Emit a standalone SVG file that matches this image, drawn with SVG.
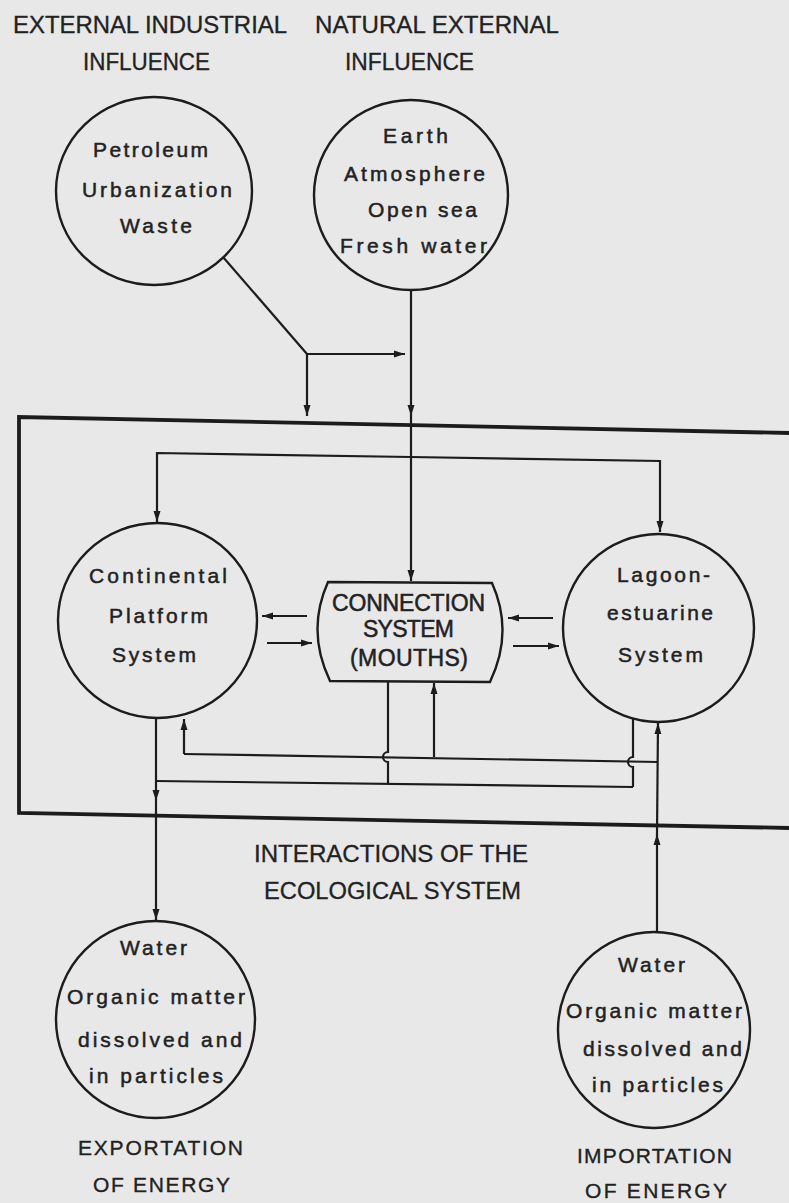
<svg xmlns="http://www.w3.org/2000/svg" width="789" height="1203" viewBox="0 0 789 1203">
<defs>
<style>
.bg{fill:#e8e8e8}
.c{fill:none;stroke:#1c1c1c;stroke-width:2.4}
.ln{fill:none;stroke:#1c1c1c;stroke-width:2.2}
.fr{fill:none;stroke:#1c1c1c;stroke-width:3.8}
.t{font-family:"Liberation Sans",Arial,sans-serif;font-size:21px;fill:#222;stroke:#222;stroke-width:0.5}
.cap{font-family:"Liberation Sans",Arial,sans-serif;font-size:23px;fill:#222;stroke:#222;stroke-width:0.3}
.big{font-family:"Liberation Sans",Arial,sans-serif;font-size:23px;fill:#222;stroke:#222;stroke-width:0.5}
.lab{font-family:"Liberation Sans",Arial,sans-serif;font-size:21px;fill:#222;stroke:#222;stroke-width:0.35}
</style>
<marker id="ah" markerUnits="userSpaceOnUse" markerWidth="11" markerHeight="8" refX="11" refY="4" orient="auto">
<path d="M0,0.5 L11,4 L0,7.5 z" fill="#1c1c1c"/>
</marker>
</defs>
<rect class="bg" x="0" y="0" width="789" height="1203"/>

<g id="title-industrial">
<text class="cap" x="13" y="33" textLength="274" lengthAdjust="spacingAndGlyphs">EXTERNAL INDUSTRIAL</text>
<text class="cap" x="83" y="70" textLength="127" lengthAdjust="spacingAndGlyphs">INFLUENCE</text>
</g>
<g id="title-natural">
<text class="cap" x="315" y="33" textLength="244" lengthAdjust="spacingAndGlyphs">NATURAL EXTERNAL</text>
<text class="cap" x="345" y="70" textLength="129" lengthAdjust="spacingAndGlyphs">INFLUENCE</text>
</g>

<g id="node-industrial">
<ellipse class="c" cx="154" cy="191" rx="98" ry="94"/>
<text class="t" x="93" y="157" textLength="115">Petroleum</text>
<text class="t" x="82" y="197" textLength="150">Urbanization</text>
<text class="t" x="120" y="233" textLength="72">Waste</text>
</g>

<g id="node-natural">
<ellipse class="c" cx="411" cy="195" rx="97" ry="95"/>
<text class="t" x="383" y="143" textLength="65">Earth</text>
<text class="t" x="344" y="181" textLength="141">Atmosphere</text>
<text class="t" x="368" y="217" textLength="109">Open sea</text>
<text class="t" x="340" y="253" textLength="147">Fresh water</text>
</g>

<g id="frame">
<path class="fr" d="M789,433 L19,417 L19,813 L789,828"/>
<text class="cap" x="254" y="862" textLength="274" lengthAdjust="spacingAndGlyphs">INTERACTIONS OF THE</text>
<text class="cap" x="264" y="899" textLength="257" lengthAdjust="spacingAndGlyphs">ECOLOGICAL SYSTEM</text>
</g>

<g id="node-continental">
<ellipse class="c" cx="157.5" cy="620.5" rx="99.5" ry="97.5"/>
<text class="t" x="89" y="583" textLength="138">Continental</text>
<text class="t" x="109" y="623" textLength="99">Platform</text>
<text class="t" x="112" y="662" textLength="84">System</text>
</g>

<g id="node-connection">
<path class="c" d="M328,582 L492,583 Q514,632 490,682 L330,681 Q306,631 328,582 Z"/>
<text class="big" x="332" y="611" textLength="153">CONNECTION</text>
<text class="big" x="363" y="637" textLength="91">SYSTEM</text>
<text class="big" x="350" y="666" textLength="118">(MOUTHS)</text>
</g>

<g id="node-lagoon">
<ellipse class="c" cx="658.5" cy="628" rx="95.5" ry="94"/>
<text class="t" x="617" y="582" textLength="93">Lagoon-</text>
<text class="t" x="607" y="620" textLength="106">estuarine</text>
<text class="t" x="618" y="662" textLength="85">System</text>
</g>

<g id="node-export">
<ellipse class="c" cx="155.5" cy="1019.5" rx="99.5" ry="98.5"/>
<text class="t" x="120" y="955" textLength="67">Water</text>
<text class="t" x="67" y="1004" textLength="178">Organic matter</text>
<text class="t" x="78" y="1047" textLength="164">dissolved and</text>
<text class="t" x="89" y="1083" textLength="134">in particles</text>
<text class="lab" x="78" y="1155" textLength="165">EXPORTATION</text>
<text class="lab" x="93" y="1192" textLength="137">OF ENERGY</text>
</g>

<g id="node-import">
<ellipse class="c" cx="654" cy="1030" rx="96" ry="98"/>
<text class="t" x="618" y="972" textLength="67">Water</text>
<text class="t" x="566" y="1018" textLength="176">Organic matter</text>
<text class="t" x="583" y="1056" textLength="159">dissolved and</text>
<text class="t" x="592" y="1092" textLength="131">in particles</text>
<text class="lab" x="577" y="1163" textLength="155">IMPORTATION</text>
<text class="lab" x="585" y="1198" textLength="142">OF ENERGY</text>
</g>

<g id="connectors">
<path class="ln" d="M223,257 L307,354"/>
<path class="ln" d="M307,354 L405,354" marker-end="url(#ah)"/>
<path class="ln" d="M307,354 L307,416" marker-end="url(#ah)"/>
<path class="ln" d="M411,290 L411,416" marker-end="url(#ah)"/>
<path class="ln" d="M411,416 L411,581" marker-end="url(#ah)"/>
<path class="ln" d="M411,457 L157,453 L157,522" marker-end="url(#ah)"/>
<path class="ln" d="M411,457 L660,461 L660,532" marker-end="url(#ah)"/>
<path class="ln" d="M307,616 L262,616" marker-end="url(#ah)"/>
<path class="ln" d="M267,643 L312,643" marker-end="url(#ah)"/>
<path class="ln" d="M553,618 L508,618" marker-end="url(#ah)"/>
<path class="ln" d="M513,646 L559,646" marker-end="url(#ah)"/>
<path class="ln" d="M156,718 L156,801" marker-end="url(#ah)"/>
<path class="ln" d="M156,801 L156,920" marker-end="url(#ah)"/>
<path class="ln" d="M156,781 L633,787"/>
<path class="ln" d="M388,682 L388,752 A5,5 0 0 0 388,762 L388,784"/>
<path class="ln" d="M633,719 L633,757 A5,5 0 0 0 633,767 L633,787"/>
<path class="ln" d="M658,762 L184,754"/>
<path class="ln" d="M184,754 L184,719" marker-end="url(#ah)"/>
<path class="ln" d="M434,757 L434,683" marker-end="url(#ah)"/>
<path class="ln" d="M657,932 L657,834" marker-end="url(#ah)"/>
<path class="ln" d="M657,834 L658,723" marker-end="url(#ah)"/>
</g>
</svg>
